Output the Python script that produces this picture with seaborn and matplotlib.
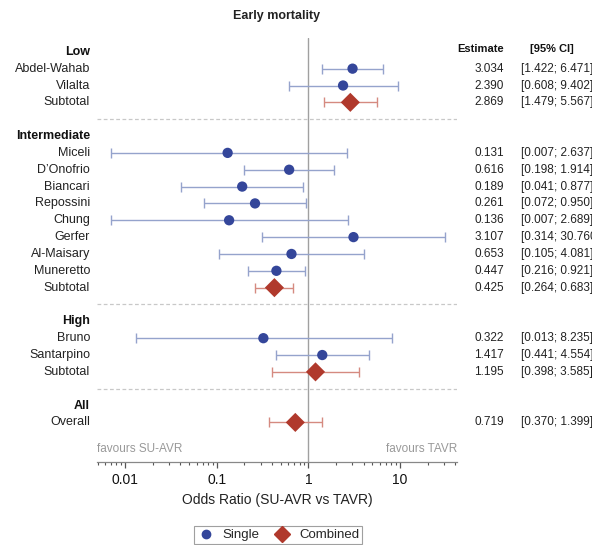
import matplotlib
matplotlib.use("Agg")
import matplotlib.pyplot as plt
from matplotlib.lines import Line2D
import matplotlib.ticker as mticker
import numpy as np
import pandas as pd
import seaborn as sns

# Data
groups = ["Low", "Intermediate", "High", "All"]
group_studies = [
    ["Abdel-Wahab", "Vilalta", "Subtotal"],
    ["Miceli", "D\u2019Onofrio", "Biancari", "Repossini", "Chung", "Gerfer",
     "Al-Maisary", "Muneretto", "Subtotal"],
    ["Bruno", "Santarpino", "Subtotal"],
    ["Overall"],
]
group_est = [
    [3.034, 2.390, 2.869],
    [0.131, 0.616, 0.189, 0.261, 0.136, 3.107, 0.653, 0.447, 0.425],
    [0.322, 1.417, 1.195],
    [0.719],
]
group_lo = [
    [1.422, 0.608, 1.479],
    [0.007, 0.198, 0.041, 0.072, 0.007, 0.314, 0.105, 0.216, 0.264],
    [0.013, 0.441, 0.398],
    [0.370],
]
group_hi = [
    [6.471, 9.402, 5.567],
    [2.637, 1.914, 0.877, 0.950, 2.689, 30.760, 4.081, 0.921, 0.683],
    [8.235, 4.554, 3.585],
    [1.399],
]

blue = "#34469a"
blue_bar = "#95a3cc"
red = "#b0392c"
red_bar = "#d58a80"
grey = "#a0a0a0"

# build a long table with row positions
recs = []
headers = []
separators = []
r = 0
for gi, g in enumerate(groups):
    headers.append((g, r))
    r += 1
    for s, e, l, h in zip(group_studies[gi], group_est[gi], group_lo[gi], group_hi[gi]):
        kind = "Combined" if s in ("Subtotal", "Overall") else "Single"
        recs.append(dict(study=s, est=e, lo=l, hi=h, kind=kind, row=r))
        r += 1
    if gi < len(groups) - 1:
        separators.append(r)
        r += 1
df = pd.DataFrame(recs)

sns.set_theme(style="white")
plt.rcParams["font.family"] = ["Liberation Sans", "DejaVu Sans"]

fig = plt.figure(figsize=(5.92, 5.45), dpi=100)
ax = fig.add_axes([97 / 592, 1 - 462 / 545, 360 / 592, 424 / 545])

# error bars
for kind, col in (("Single", blue_bar), ("Combined", red_bar)):
    d = df[df.kind == kind]
    ax.errorbar(d.est, d.row, xerr=[d.est - d.lo, d.hi - d.est], fmt="none",
                ecolor=col, elinewidth=1.0, capsize=3.5, capthick=1.0, zorder=2)

sns.scatterplot(data=df, x="est", y="row", hue="kind", style="kind", size="kind",
                hue_order=["Single", "Combined"],
                palette={"Single": blue, "Combined": red},
                markers={"Single": "o", "Combined": "D"},
                sizes={"Single": 55, "Combined": 95},
                edgecolor="none", legend=False, ax=ax, zorder=3)

ax.axvline(1, color=grey, lw=1.0, zorder=1)
for s in separators:
    ax.axhline(s, color="#c8c8c8", lw=0.9, ls=(0, (3, 2)), zorder=1)

ax.set_xscale("log")
ax.set_xlim(0.0049, 42)
ax.set_ylim(24.35, -0.82)
ax.set_yticks([])
ax.set_xticks([0.01, 0.1, 1, 10])
ax.xaxis.set_major_formatter(mticker.FuncFormatter(lambda v, p: f"{v:g}"))
ax.xaxis.set_minor_locator(mticker.LogLocator(base=10, subs=np.arange(2, 10)))
ax.tick_params(axis="x", which="major", bottom=True, length=4, width=0.9,
               color="#555555", labelsize=10, labelcolor="#111111", pad=4)
ax.tick_params(axis="x", which="minor", bottom=True, length=2.5, width=0.8, color="#555555")
for side in ("top", "right", "left"):
    ax.spines[side].set_visible(False)
ax.spines["bottom"].set_color("#888888")
ax.spines["bottom"].set_linewidth(0.9)
ax.set_xlabel("Odds Ratio (SU-AVR vs TAVR)", fontsize=10, color="#222222", labelpad=4)
ax.set_ylabel("")

ax.set_title("Early mortality", fontsize=9, fontweight="bold", color="#222222", pad=14)

yt = ax.get_yaxis_transform()
lbl_x = (90 - 97) / 360
est_x = (504 - 97) / 360
ci_x = (521 - 97) / 360
for g, rr in headers:
    ax.text(lbl_x, rr, g, transform=yt, ha="right", va="center", fontsize=9,
            fontweight="bold", color="#111111")
for _, row in df.iterrows():
    ax.text(lbl_x, row.row, row.study, transform=yt, ha="right", va="center",
            fontsize=9, color="#222222")
    ax.text(est_x, row.row, f"{row.est:.3f}", transform=yt, ha="right", va="center",
            fontsize=8.5, color="#222222", clip_on=False)
    ax.text(ci_x, row.row, f"[{row.lo:.3f}; {row.hi:.3f}]", transform=yt, ha="left",
            va="center", fontsize=8.5, color="#222222", clip_on=False)

ax.text(est_x, -0.15, "Estimate", transform=yt, ha="right", va="center",
        fontsize=8, fontweight="bold", color="#111111")
ax.text((530 - 97) / 360, -0.15, "[95% CI]", transform=yt, ha="left", va="center",
        fontsize=8, fontweight="bold", color="#111111")

ax.text(0.0, 23.6, "favours SU-AVR", transform=yt, ha="left", va="center",
        fontsize=8.5, color="#999999")
ax.text(1.0, 23.6, "favours TAVR", transform=yt, ha="right", va="center",
        fontsize=8.5, color="#999999")

handles = [
    Line2D([], [], marker="o", ls="none", color=blue, markersize=6, label="Single"),
    Line2D([], [], marker="D", ls="none", color=red, markersize=8, label="Combined"),
]
leg = fig.legend(handles=handles, loc="lower center", bbox_to_anchor=(278 / 592, 0.002),
                 ncol=2, frameon=True, fontsize=9.5, handletextpad=0.6,
                 columnspacing=1.0, borderpad=0.2, handlelength=1.4, fancybox=False,
                 borderaxespad=0.0)
leg.get_frame().set_edgecolor("#888888")
leg.get_frame().set_linewidth(0.8)

fig.savefig("out.png", dpi=100)
